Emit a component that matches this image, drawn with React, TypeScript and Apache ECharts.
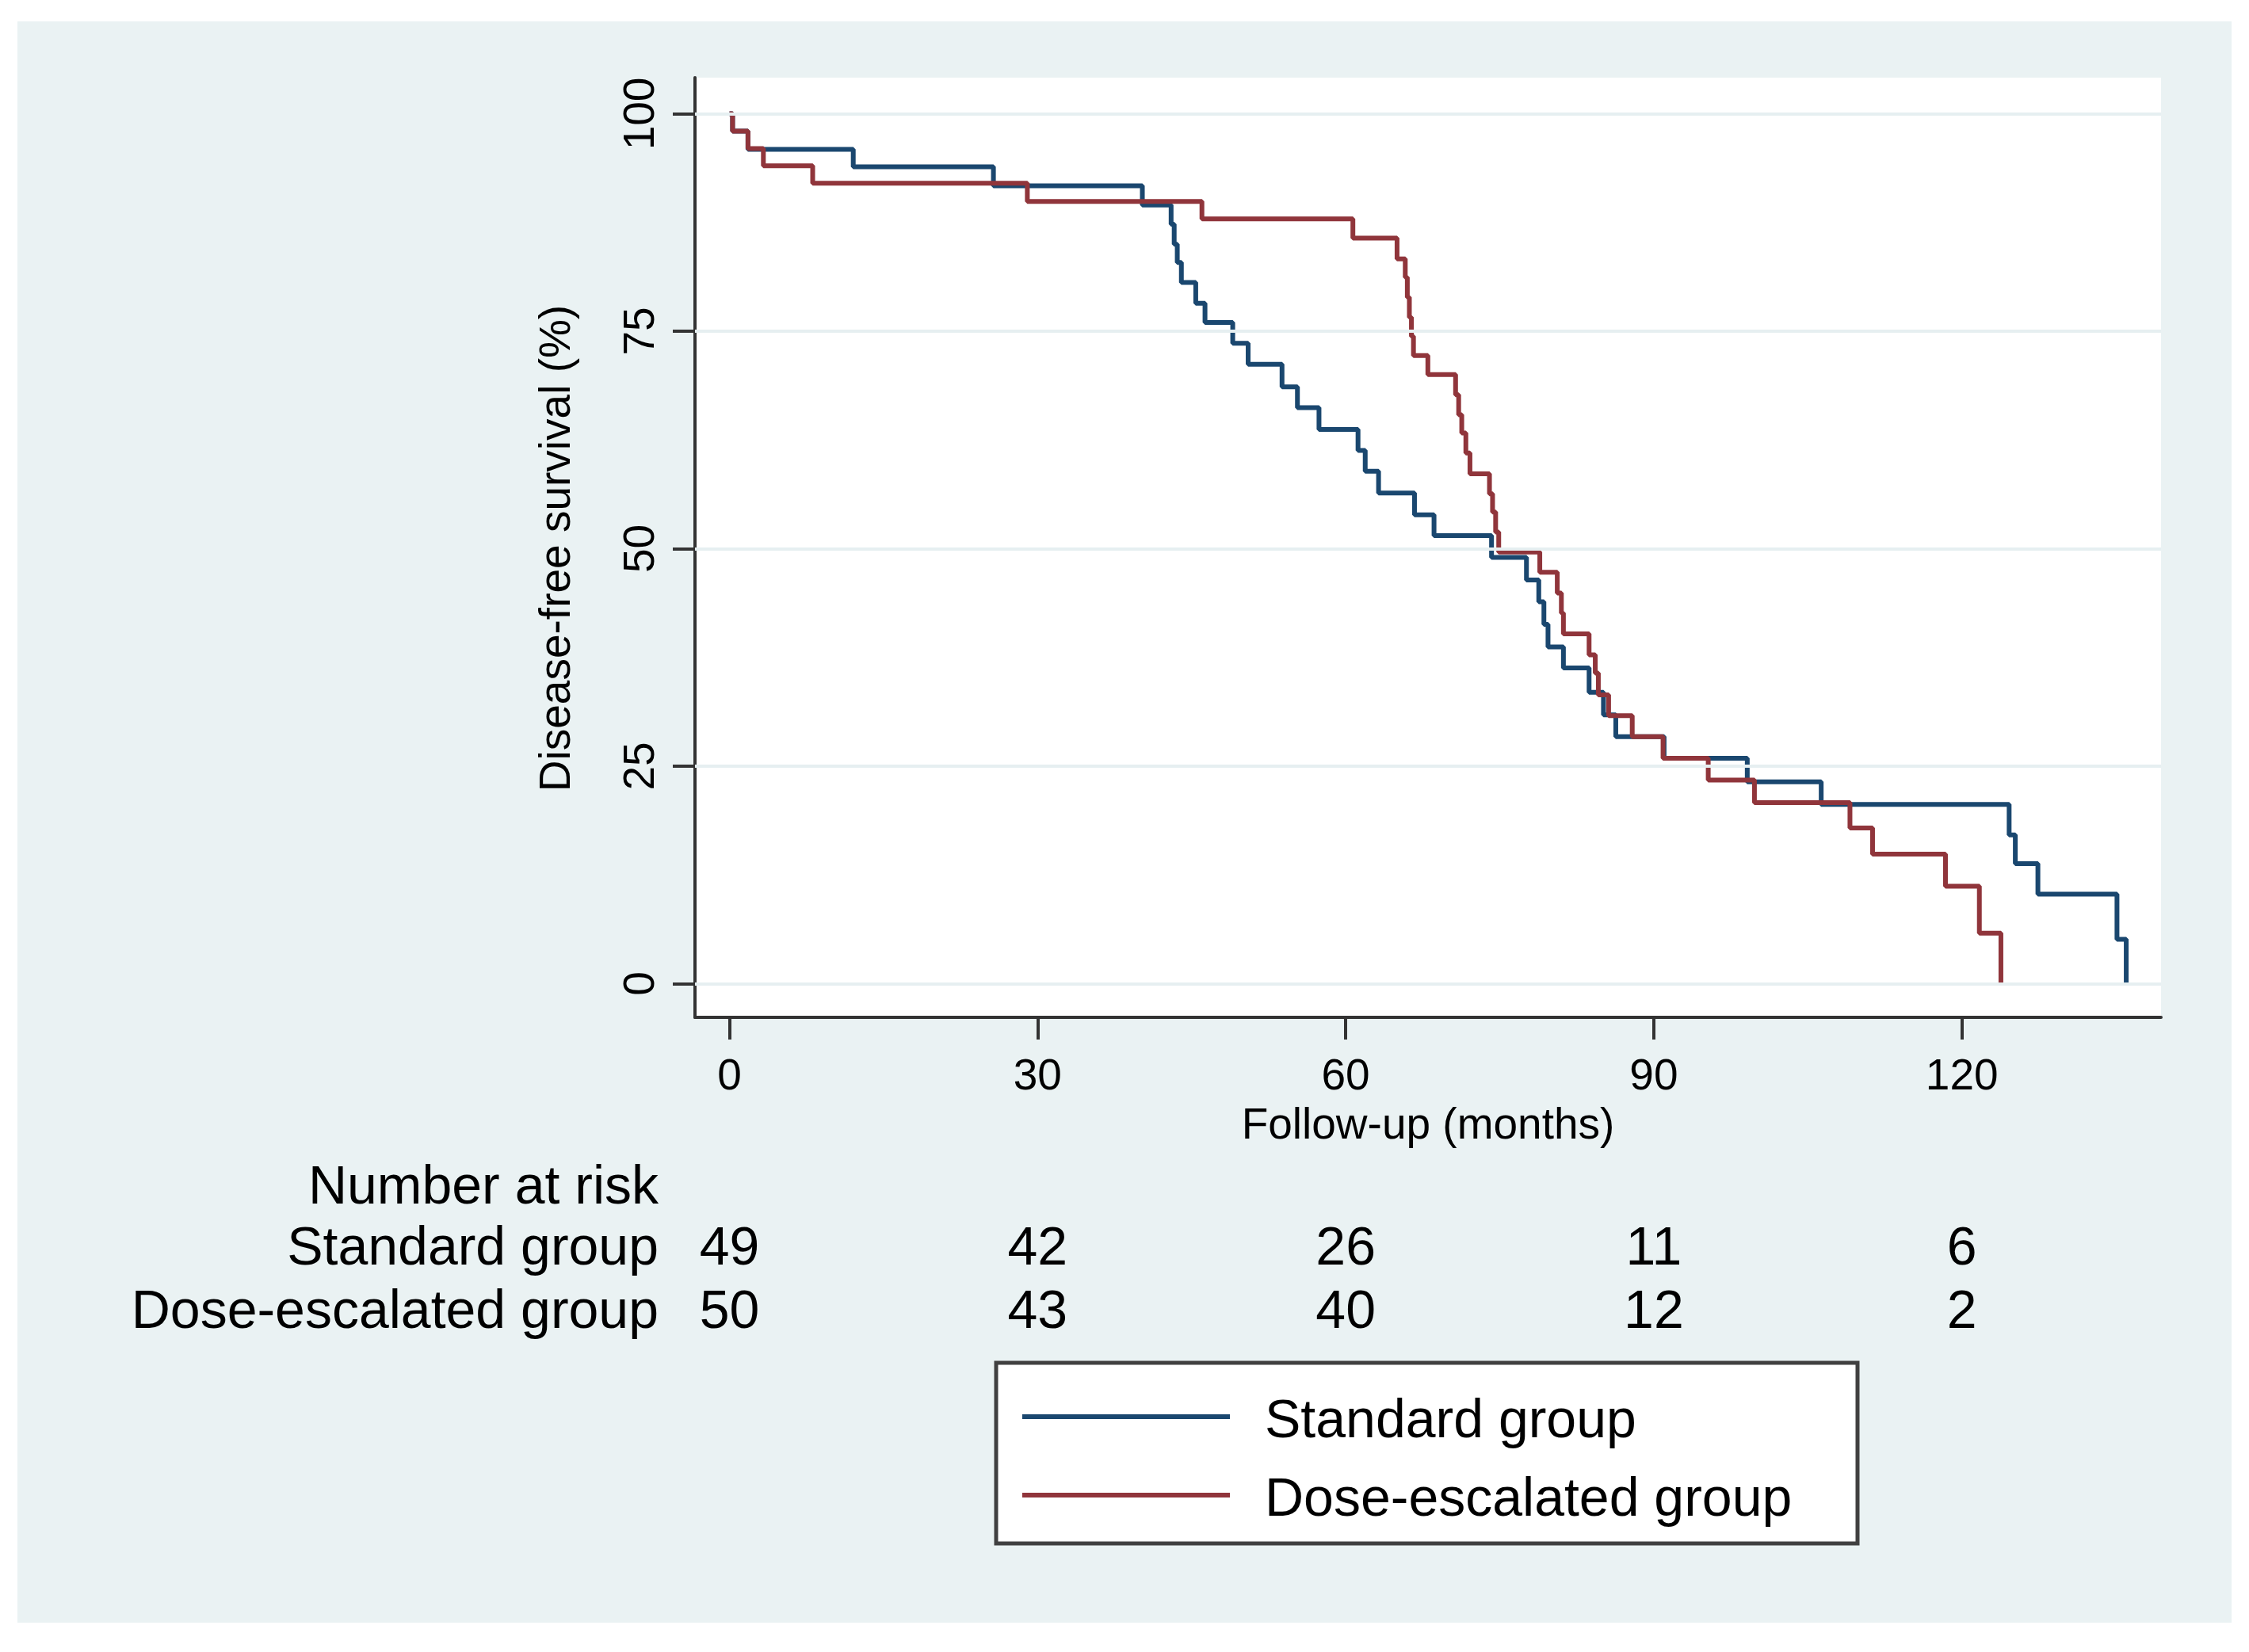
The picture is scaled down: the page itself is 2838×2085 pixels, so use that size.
import React, { useEffect, useRef } from "react";
import * as echarts from "echarts";

const timeTicks = [0, 30, 60, 90, 120];
const survTicks = [0, 25, 50, 75, 100];

const standardTimes = [0, 0.3, 1.8, 12.05, 25.7, 40.2, 43.0, 43.3, 43.6, 44.0, 45.4, 46.3, 49.0, 50.5, 53.8, 55.3, 57.4, 61.2, 61.9, 63.2, 66.7, 68.6, 74.2, 77.6, 78.8, 79.3, 79.7, 81.2, 83.7, 85.1, 86.3, 91.0, 99.1, 106.3, 124.6, 125.2, 127.4, 135.1, 136.0];
const standardSurv = [100, 98.0, 95.9, 93.9, 91.7, 89.5, 87.3, 85.0, 82.9, 80.6, 78.2, 76.0, 73.6, 71.2, 68.6, 66.2, 63.7, 61.3, 58.9, 56.4, 53.9, 51.5, 49.0, 46.4, 43.9, 41.3, 38.7, 36.3, 33.5, 30.9, 28.4, 25.9, 23.2, 20.6, 17.1, 13.8, 10.3, 5.1, 0];

const doseTimes = [0, 0.3, 1.8, 3.3, 8.1, 29.0, 46.0, 60.7, 65.0, 65.8, 66.0, 66.2, 66.4, 66.6, 68.0, 70.7, 71.0, 71.3, 71.7, 72.1, 74.0, 74.3, 74.6, 74.9, 78.9, 80.6, 81.0, 81.2, 83.7, 84.3, 84.6, 85.6, 87.9, 90.9, 95.3, 99.8, 109.1, 111.3, 118.4, 121.7, 123.8];
const doseSurv = [100, 98, 96, 94, 92, 89.9, 87.9, 85.7, 83.3, 81.2, 78.9, 76.6, 74.4, 72.2, 70.0, 67.7, 65.4, 63.3, 61.0, 58.6, 56.3, 54.2, 51.9, 49.6, 47.3, 44.9, 42.6, 40.2, 37.8, 35.7, 33.2, 30.8, 28.4, 25.9, 23.4, 20.8, 17.9, 14.9, 11.2, 5.8, 0];

const groupNames = ["Standard group", "Dose-escalated group"];
const riskStandard = [49, 42, 26, 11, 6];
const riskDose = [50, 43, 40, 12, 2];

const BLUE = "#1a476f";
const RED = "#90353b";
const FONT = "'Liberation Sans', Arial, Helvetica, sans-serif";

export default function App() {
  const ref = useRef<HTMLDivElement>(null);

  useEffect(() => {
    document.body.style.margin = "0";
    if (!ref.current) return;
    const chart = echarts.init(ref.current, undefined, { renderer: "svg" });

    const standardData = standardTimes.map((t, i) => [t, standardSurv[i]]);
    const doseData = doseTimes.map((t, i) => [t, doseSurv[i]]);

    chart.setOption({
      animation: false,
      backgroundColor: "#ffffff",
      textStyle: { fontFamily: FONT },
      grid: {
        left: 877,
        top: 98,
        width: 1850,
        height: 1186,
        show: true,
        backgroundColor: "#ffffff",
        borderWidth: 0,
        containLabel: false,
      },
      xAxis: {
        type: "value",
        min: -3.36,
        max: 139.39,
        axisLine: { show: true, onZero: false, lineStyle: { color: "#333333", width: 4 } },
        axisTick: { show: true, length: 28, customValues: timeTicks, lineStyle: { color: "#333333", width: 4 } },
        axisLabel: { show: true, customValues: timeTicks, margin: 44, fontSize: 55, color: "#000000", fontFamily: FONT },
        splitLine: { show: false },
      },
      yAxis: {
        type: "value",
        min: -3.87,
        max: 104.14,
        axisLine: { show: true, onZero: false, lineStyle: { color: "#333333", width: 4 } },
        axisTick: { show: true, length: 28, customValues: survTicks, lineStyle: { color: "#333333", width: 4 } },
        axisLabel: { show: true, customValues: survTicks, rotate: 90, margin: 44, fontSize: 55, color: "#000000", fontFamily: FONT },
        splitLine: { show: false },
      },
      series: [
        {
          name: "grid",
          type: "line",
          data: [],
          z: 1,
          silent: true,
          markLine: {
            silent: true,
            symbol: "none",
            label: { show: false },
            lineStyle: { color: "#e6eff1", width: 4, type: "solid" },
            data: survTicks.map((v) => ({ yAxis: v })),
          },
        },
        {
          name: groupNames[0],
          type: "line",
          step: "end",
          data: standardData,
          showSymbol: false,
          symbol: "none",
          z: 3,
          lineStyle: { color: BLUE, width: 6 },
          itemStyle: { color: BLUE },
        },
        {
          name: groupNames[1],
          type: "line",
          step: "end",
          data: doseData,
          showSymbol: false,
          symbol: "none",
          z: 4,
          lineStyle: { color: RED, width: 6 },
          itemStyle: { color: RED },
        },
      ],
    });

    const riskX = timeTicks.map((t) => chart.convertToPixel({ xAxisIndex: 0 }, t) as number);
    const rowY = [1572, 1652];

    const graphics: any[] = [
      {
        type: "rect",
        id: "bg",
        z: -10,
        silent: true,
        shape: { x: 22, y: 27, width: 2794, height: 2021 },
        style: { fill: "#eaf2f3" },
      },
      {
        type: "text",
        id: "ytitle",
        x: 700,
        y: 692,
        rotation: Math.PI / 2,
        style: { text: "Disease-free survival (%)", font: `55px ${FONT}`, fill: "#000", align: "center", verticalAlign: "middle" },
      },
      {
        type: "text",
        id: "xtitle",
        x: 1802,
        y: 1418,
        style: { text: "Follow-up (months)", font: `55px ${FONT}`, fill: "#000", align: "center", verticalAlign: "middle" },
      },
      {
        type: "text",
        id: "riskhead",
        x: 831,
        y: 1495,
        style: { text: "Number at risk", font: `68px ${FONT}`, fill: "#000", align: "right", verticalAlign: "middle" },
      },
      {
        type: "text",
        id: "risklab0",
        x: 831,
        y: rowY[0],
        style: { text: groupNames[0], font: `68px ${FONT}`, fill: "#000", align: "right", verticalAlign: "middle" },
      },
      {
        type: "text",
        id: "risklab1",
        x: 831,
        y: rowY[1],
        style: { text: groupNames[1], font: `68px ${FONT}`, fill: "#000", align: "right", verticalAlign: "middle" },
      },
    ];

    riskX.forEach((x, i) => {
      graphics.push({
        type: "text",
        id: `rs${i}`,
        x,
        y: rowY[0],
        style: { text: String(riskStandard[i]), font: `68px ${FONT}`, fill: "#000", align: "center", verticalAlign: "middle" },
      });
      graphics.push({
        type: "text",
        id: `rd${i}`,
        x,
        y: rowY[1],
        style: { text: String(riskDose[i]), font: `68px ${FONT}`, fill: "#000", align: "center", verticalAlign: "middle" },
      });
    });

    // legend box
    graphics.push({
      type: "rect",
      id: "legbox",
      shape: { x: 1257, y: 1720, width: 1087, height: 228 },
      style: { fill: "#ffffff", stroke: "#404040", lineWidth: 5 },
    });
    const legY = [1788, 1887];
    const legColors = [BLUE, RED];
    groupNames.forEach((name, i) => {
      graphics.push({
        type: "line",
        id: `legline${i}`,
        shape: { x1: 1290, y1: legY[i], x2: 1552, y2: legY[i] },
        style: { stroke: legColors[i], lineWidth: 6 },
      });
      graphics.push({
        type: "text",
        id: `legtext${i}`,
        x: 1596,
        y: legY[i] + 2,
        style: { text: name, font: `68px ${FONT}`, fill: "#000", align: "left", verticalAlign: "middle" },
      });
    });

    chart.setOption({ graphic: graphics });

    return () => {
      chart.dispose();
    };
  }, []);

  return (
    <div
      ref={ref}
      style={{ position: "absolute", left: 0, top: 0, width: 2838, height: 2085 }}
    />
  );
}
